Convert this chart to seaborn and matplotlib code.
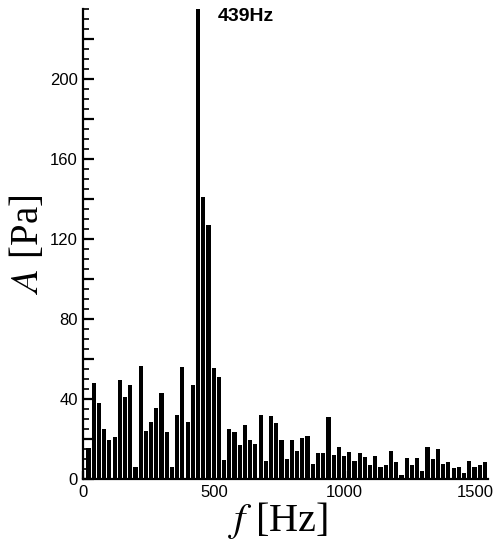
import numpy as np
import pandas as pd
import matplotlib
matplotlib.use("Agg")
import matplotlib.pyplot as plt
from matplotlib.ticker import MultipleLocator, FuncFormatter
import seaborn as sns

# espectro: resolucion en frecuencia tal que el bin 22 cae en 439 Hz
df_hz = 439 / 22
n_bins = 77
freq = np.arange(1, n_bins + 1) * df_hz

amp = [15.5, 48, 38, 25, 19.5, 21, 49.5, 41, 47, 6,
       56.5, 24, 28.5, 35.5, 43, 23.5, 6, 32, 56, 28.5,
       47, 260, 141, 127, 55.5, 51, 9.5, 25, 23.5, 17,
       27, 19.5, 17.5, 32, 9, 31.5, 28, 19.5, 10, 19.5,
       14, 20.5, 21.5, 7.5, 13, 13, 31, 12, 16, 11.5,
       13.5, 9, 13, 11, 7, 11.5, 6, 7, 14, 8.5,
       2, 10.5, 7, 10.5, 4, 16, 10, 15, 7.5, 8.5,
       5.5, 6, 3, 9, 6, 7, 8.5]

peak_label = "439Hz"

data = pd.DataFrame({"f": freq, "A": amp})

sns.set_style("ticks")
plt.rcParams["font.family"] = ["Liberation Sans", "DejaVu Sans"]
plt.rcParams["mathtext.fontset"] = "stix"
plt.rcParams["text.color"] = "black"
plt.rcParams["axes.labelcolor"] = "black"
plt.rcParams["xtick.color"] = "black"
plt.rcParams["ytick.color"] = "black"

fig = plt.figure(figsize=(5.03, 5.5), dpi=100)
ax = fig.add_axes([0.1656, 0.129, 0.8054, 0.8546])

sns.barplot(data=data, x="f", y="A", native_scale=True, color="black",
            saturation=1, width=0.8, errorbar=None, linewidth=0, ax=ax)

ax.set_xlim(0, 1550)
ax.set_ylim(0, 235)

# ejes: solo izquierdo e inferior
for s in ["top", "right"]:
    ax.spines[s].set_visible(False)
for s in ["left", "bottom"]:
    ax.spines[s].set_linewidth(1.6)
    ax.spines[s].set_color("black")

ax.yaxis.set_major_locator(MultipleLocator(20))
ax.yaxis.set_minor_locator(MultipleLocator(5))
ax.yaxis.set_major_formatter(FuncFormatter(lambda v, p: f"{int(v)}" if int(round(v)) % 40 == 0 else ""))
ax.xaxis.set_major_locator(MultipleLocator(500))
ax.tick_params(axis="y", which="major", direction="in", length=8, width=1.6,
               labelsize=12, pad=4, colors="black")
ax.tick_params(axis="y", which="minor", direction="in", length=4, width=1.2,
               colors="black")
ax.tick_params(axis="x", which="major", direction="in", length=6, width=1.6,
               labelsize=12, pad=4, colors="black")

ax.set_xlabel("$f$ [Hz]", fontsize=29, family="Liberation Serif", labelpad=0,
              color="black")
ax.xaxis.set_label_coords(0.48, -0.045, transform=ax.transAxes)
ax.xaxis.label.set_va("top")
ax.set_ylabel("$A$ [Pa]", fontsize=28, family="Liberation Serif", labelpad=2,
              color="black")

ax.text(515, 231.5, peak_label, ha="left", va="center", fontsize=14,
        fontweight="bold", color="black")

fig.savefig("out.png", dpi=100)
